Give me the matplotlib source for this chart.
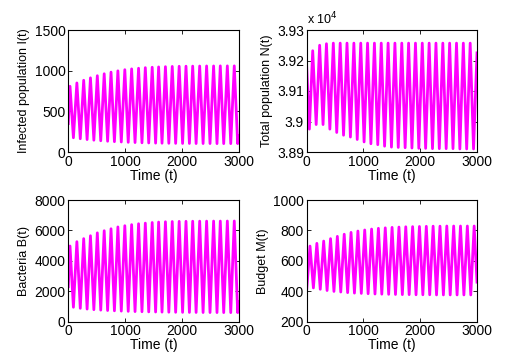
import numpy as np
import matplotlib
matplotlib.use("Agg")
from matplotlib import pyplot as plt
from matplotlib.ticker import FuncFormatter

plt.rcParams['font.family'] = ['Liberation Sans', 'DejaVu Sans']
plt.rcParams['font.size'] = 9

# --- data: turning points of each oscillation ---
# Infected population I(t)
i_start = (0, 350)
i_peak_t = [30, 151, 271, 390, 511, 632, 752, 873, 995, 1115, 1237, 1356, 1477,
            1590, 1710, 1830, 1952, 2072, 2190, 2313, 2435, 2558, 2676, 2800, 2922]
i_peak_v = [808, 849, 882, 912, 938, 962, 982, 998, 1012, 1022, 1030, 1037, 1042,
            1046, 1049, 1052, 1054, 1055, 1056, 1057, 1058, 1058, 1059, 1059, 1059]
i_trough_t = [90, 211, 331, 450, 571, 692, 812, 933, 1055, 1175, 1297, 1416, 1537,
              1650, 1770, 1890, 2012, 2132, 2250, 2373, 2495, 2618, 2736, 2860, 2982]
i_trough_v = [175, 163, 153, 145, 138, 132, 127, 123, 119, 116, 113, 111, 109,
              108, 107, 106, 105, 105, 104, 104, 104, 103, 103, 103, 103]
i_end = (3000, 200)

# Total population N(t)
n_start = (0, 39180)
n_peak_t = [106, 228, 348, 469, 590, 710, 831, 952, 1072, 1193, 1313, 1434,
            1554, 1675, 1795, 1916, 2036, 2157, 2277, 2398, 2518, 2639, 2759, 2880]
n_peak_v = [39232, 39250, 39255, 39257, 39257, 39257, 39257, 39257, 39257, 39257, 39257, 39257,
            39257, 39257, 39257, 39257, 39257, 39257, 39257, 39257, 39257, 39257, 39257, 39257]
n_trough_t = [47, 167, 288, 408, 529, 649, 770, 890, 1011, 1131, 1252, 1372, 1493,
              1613, 1734, 1854, 1975, 2095, 2216, 2336, 2457, 2577, 2698, 2818, 2939]
n_trough_v = [38975, 38990, 38990, 38975, 38964, 38955, 38949, 38941, 38933, 38927, 38924, 38919, 38916,
              38915, 38914, 38913, 38912, 38912, 38911, 38911, 38911, 38911, 38910, 38910, 38910]
n_end = (3000, 39225)

# Bacteria B(t)
b_start = (0, 2300)
b_peak_t = i_peak_t
b_peak_v = [4975, 5260, 5460, 5650, 5840, 5980, 6110, 6230, 6310, 6380, 6440, 6480, 6520,
            6550, 6570, 6585, 6595, 6600, 6605, 6610, 6612, 6615, 6615, 6618, 6620]
b_trough_t = i_trough_t
b_trough_v = [950, 880, 830, 790, 760, 735, 715, 695, 680, 665, 655, 645, 637,
              630, 624, 618, 614, 610, 607, 604, 602, 600, 598, 597, 596]
b_end = (3000, 1300)

# Budget M(t)
m_start = (0, 410)
m_peak_t = [58, 179, 299, 420, 540, 661, 781, 902, 1022, 1143, 1263, 1384, 1504,
            1625, 1745, 1866, 1986, 2107, 2227, 2348, 2468, 2589, 2709, 2830, 2950]
m_peak_v = [697, 715, 730, 746, 761, 775, 787, 796, 803, 809, 814, 817, 820,
            822, 824, 825, 826, 827, 828, 828, 829, 829, 829, 829, 829]
m_trough_t = [118, 239, 359, 480, 600, 721, 841, 962, 1082, 1203, 1323, 1444,
              1564, 1685, 1805, 1926, 2046, 2167, 2287, 2408, 2528, 2649, 2769, 2890]
m_trough_v = [422, 413, 405, 399, 395, 391, 388, 386, 384, 382, 381, 380,
              379, 378, 378, 377, 377, 377, 376, 376, 376, 376, 376, 376]
m_end = (3000, 460)

x_ticks = [0, 1000, 2000, 3000]
i_ticks = [0, 500, 1000, 1500]
n_ticks = [38900, 39000, 39100, 39200, 39300]
b_ticks = [0, 2000, 4000, 6000, 8000]
m_ticks = [200, 400, 600, 800, 1000]


def series(start, peak_t, peak_v, trough_t, trough_v, end):
    #merge the turning points in time order
    t = np.concatenate([[start[0]], peak_t, trough_t, [end[0]]])
    v = np.concatenate([[start[1]], peak_v, trough_v, [end[1]]])
    order = np.argsort(t)
    return t[order], v[order]


def style_axes(ax, yticks, ylabel):
    ax.set_xlim(0, 3000)
    ax.set_ylim(yticks[0], yticks[-1])
    ax.set_xticks(x_ticks)
    ax.set_yticks(yticks)
    ax.set_xlabel("Time (t)", labelpad=0, fontsize=10)
    ax.set_ylabel(ylabel, labelpad=3)
    ax.tick_params(direction='in', top=True, right=True, length=3, width=0.6, pad=2,
                   labelsize=10)
    for s in ax.spines.values():
        s.set_linewidth(0.8)


fig = plt.figure(figsize=(5.07, 3.57), dpi=100)
W, H = 507, 357
boxes = {
    "I": (68.3, 30, 238.7, 152),
    "N": (306.7, 30, 477, 152),
    "B": (68.3, 200, 238.7, 321.7),
    "M": (306.7, 200, 477, 321.7),
}
axes = {}
for k, (l, t, r, b) in boxes.items():
    axes[k] = fig.add_axes([l / W, 1 - b / H, (r - l) / W, (b - t) / H])

line_kw = dict(color='#ff00ff', lw=2.0, solid_joinstyle='round')

t, v = series(i_start, i_peak_t, i_peak_v, i_trough_t, i_trough_v, i_end)
axes["I"].plot(t, v, **line_kw)
style_axes(axes["I"], i_ticks, "Infected population I(t)")

t, v = series(n_start, n_peak_t, n_peak_v, n_trough_t, n_trough_v, n_end)
axes["N"].plot(t, v, **line_kw)
style_axes(axes["N"], n_ticks, "Total population N(t)")
axes["N"].yaxis.set_major_formatter(FuncFormatter(lambda y, p: f"{y / 1e4:g}"))
axes["N"].text(0.0, 1.02, r"x 10$^{4}$", transform=axes["N"].transAxes,
               ha='left', va='bottom', fontsize=9)

t, v = series(b_start, b_peak_t, b_peak_v, b_trough_t, b_trough_v, b_end)
axes["B"].plot(t, v, **line_kw)
style_axes(axes["B"], b_ticks, "Bacteria B(t)")

t, v = series(m_start, m_peak_t, m_peak_v, m_trough_t, m_trough_v, m_end)
axes["M"].plot(t, v, **line_kw)
style_axes(axes["M"], m_ticks, "Budget M(t)")

fig.savefig("out.png", dpi=100)
